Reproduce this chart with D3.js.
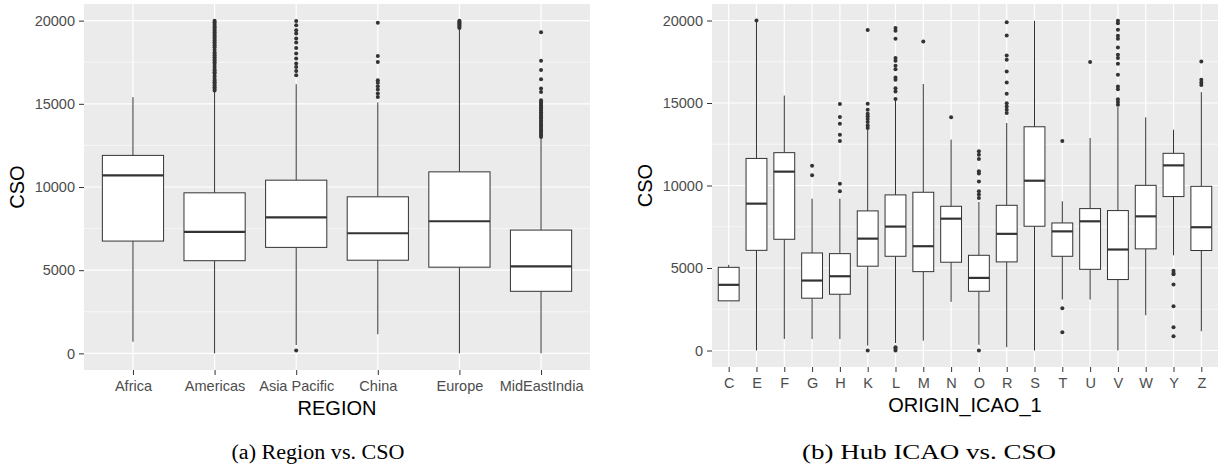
<!DOCTYPE html>
<html>
<head>
<meta charset="utf-8">
<script src="https://cdn.jsdelivr.net/npm/d3@7"></script>
<style>
  body { margin: 0; background: #fff; }
  svg { display: block; }
</style>
</head>
<body>
<svg id="chart" width="1219" height="469"></svg>
<script>
// ---- data: left panel (REGION) ----
const regionNames = ['Africa', 'Americas', 'Asia Pacific', 'China', 'Europe', 'MidEastIndia']
const regionLower = [700, 0, 500, 1150, 0, 0]
const regionQ1 = [6750, 5570, 6370, 5600, 5180, 3730]
const regionMedian = [10700, 7300, 8170, 7220, 7940, 5230]
const regionQ3 = [11900, 9650, 10410, 9410, 10910, 7410]
const regionUpper = [15400, 15750, 16180, 15080, 19450, 12900]
const regionOutliers = [
  [],
  [15800, 15900, 16000, 16100, 16200, 16300, 16400, 16500, 16650, 16800, 16900, 17000, 17100, 17250,
   17400, 17500, 17600, 17700, 17800, 17900, 18000, 18100, 18250, 18400, 18500, 18600, 18700, 18800,
   18900, 19000, 19100, 19200, 19300, 19400, 19500, 19600, 19700, 19800, 19900, 20000],
  [170, 16720, 16980, 17220, 17420, 17720, 18020, 18360, 18680, 18920, 19220, 19420, 19720, 19980],
  [15410, 15620, 15860, 16060, 16260, 16420, 17520, 17880, 19880],
  [19550, 19620, 19700, 19760, 19820, 19880, 19940, 20000],
  [13000, 13100, 13200, 13300, 13400, 13500, 13600, 13700, 13800, 13900, 14000, 14100, 14200, 14300,
   14400, 14500, 14600, 14700, 14800, 14900, 15000, 15100, 15220, 15710, 15920, 16480, 17030, 17590, 19300]
]

// ---- data: right panel (ORIGIN_ICAO_1) ----
const hubNames = ['C', 'E', 'F', 'G', 'H', 'K', 'L', 'M', 'N', 'O', 'R', 'S', 'T', 'U', 'V', 'W', 'Y', 'Z']
const hubLower = [3010, 0, 700, 700, 700, 300, 450, 600, 2950, 350, 200, 0, 3090, 3090, 0, 2140, 5770, 1170]
const hubQ1 = [3010, 6070, 6740, 3170, 3410, 5110, 5710, 4780, 5350, 3590, 5370, 7530, 5710, 4920, 4300, 6160, 9330, 6060]
const hubMedian = [3980, 8900, 10840, 4240, 4500, 6780, 7510, 6320, 7990, 4400, 7070, 10290, 7220, 7830, 6120, 8130, 11220, 7470]
const hubQ3 = [5040, 11640, 11990, 5910, 5870, 8460, 9430, 9590, 8740, 5770, 8800, 13560, 7730, 8600, 8480, 10010, 11950, 9950]
const hubUpper = [5190, 19950, 15450, 9200, 9200, 13400, 15150, 16150, 12780, 9000, 13790, 19980, 9040, 12880, 14750, 14130, 13380, 15660]
const hubOutliers = [
  [],
  [20000],
  [],
  [10620, 11200],
  [9650, 10110, 12700, 13080, 13750, 14150, 14940],
  [0, 13480, 13640, 13850, 14030, 14190, 14350, 14590, 14960, 19420],
  [0, 100, 200, 15250, 15700, 15900, 16410, 16550, 17050, 17260, 17560, 17720, 18890, 19380, 19540],
  [18730],
  [14130],
  [0, 9250, 9450, 9650, 10250, 10720, 10860, 11610, 11870, 12070],
  [14390, 14590, 14790, 14990, 15560, 16250, 16910, 17620, 17880, 19090, 19900],
  [],
  [1110, 2560, 12700],
  [17480],
  [14900, 15060, 15230, 15840, 16000, 16710, 17380, 17720, 17920, 18370, 18890, 19070, 19440, 19840, 19980],
  [],
  [870, 1410, 2680, 4000, 4620, 4700, 4840],
  [16090, 16250, 16410, 17520]
]

const yMajor = [0, 5000, 10000, 15000, 20000]
const yMinor = [2500, 7500, 12500, 17500]

const svg = d3.select('#chart')
const sans = 'Liberation Sans, Arial, sans-serif'

function drawPanel(cfg) {
  const g = svg.append('g')

  const x = d3.scalePoint().domain(cfg.names).range([cfg.x0, cfg.x1]).padding(0.6)
  const y = d3.scaleLinear().domain([-1000, 21000]).range([cfg.y1, cfg.y0])
  const bw = x.step() * 0.75

  // panel background
  g.append('rect')
    .attr('x', cfg.x0).attr('y', cfg.y0)
    .attr('width', cfg.x1 - cfg.x0).attr('height', cfg.y1 - cfg.y0)
    .attr('fill', '#EBEBEB')

  // grid
  g.selectAll('.minor').data(yMinor).enter().append('line')
    .attr('x1', cfg.x0).attr('x2', cfg.x1)
    .attr('y1', d => y(d)).attr('y2', d => y(d))
    .attr('stroke', '#fff').attr('stroke-width', 0.6)
  g.selectAll('.major').data(yMajor).enter().append('line')
    .attr('x1', cfg.x0).attr('x2', cfg.x1)
    .attr('y1', d => y(d)).attr('y2', d => y(d))
    .attr('stroke', '#fff').attr('stroke-width', 1.2)
  g.selectAll('.vgrid').data(cfg.names).enter().append('line')
    .attr('x1', d => x(d)).attr('x2', d => x(d))
    .attr('y1', cfg.y0).attr('y2', cfg.y1)
    .attr('stroke', '#fff').attr('stroke-width', 1.2)

  // boxes
  const rows = cfg.names.map((n, i) => ({
    name: n, lo: cfg.lower[i], q1: cfg.q1[i], med: cfg.median[i],
    q3: cfg.q3[i], hi: cfg.upper[i], out: cfg.outliers[i]
  }))

  const box = g.selectAll('.box').data(rows).enter().append('g')

  box.append('line')
    .attr('x1', d => x(d.name)).attr('x2', d => x(d.name))
    .attr('y1', d => y(d.q3)).attr('y2', d => y(d.hi))
    .attr('stroke', '#333').attr('stroke-width', 1)
  box.append('line')
    .attr('x1', d => x(d.name)).attr('x2', d => x(d.name))
    .attr('y1', d => y(d.q1)).attr('y2', d => y(d.lo))
    .attr('stroke', '#333').attr('stroke-width', 1)
  box.append('rect')
    .attr('x', d => x(d.name) - bw / 2).attr('width', bw)
    .attr('y', d => y(d.q3)).attr('height', d => y(d.q1) - y(d.q3))
    .attr('fill', '#fff').attr('stroke', '#333').attr('stroke-width', 1)
  box.append('line')
    .attr('x1', d => x(d.name) - bw / 2).attr('x2', d => x(d.name) + bw / 2)
    .attr('y1', d => y(d.med)).attr('y2', d => y(d.med))
    .attr('stroke', '#333').attr('stroke-width', 2.2)

  box.selectAll('circle').data(d => d.out.map(v => ({ name: d.name, v: v }))).enter()
    .append('circle')
    .attr('cx', d => x(d.name)).attr('cy', d => y(d.v))
    .attr('r', 2).attr('fill', '#333')

  // axes
  const yAxis = g.append('g')
    .attr('transform', `translate(${cfg.x0},0)`)
    .call(d3.axisLeft(y).tickValues(yMajor).tickSize(5).tickPadding(4).tickFormat(d3.format('d')))
  const xAxis = g.append('g')
    .attr('transform', `translate(0,${cfg.y1})`)
    .call(d3.axisBottom(x).tickSize(5).tickPadding(5.5))

  ;[yAxis, xAxis].forEach(a => {
    a.select('.domain').remove()
    a.selectAll('.tick line').attr('stroke', '#333').attr('stroke-width', 1)
    a.selectAll('.tick text').attr('fill', '#4D4D4D')
      .style('font-family', sans).style('font-size', '14.5px')
  })

  // titles
  g.append('text')
    .attr('x', (cfg.x0 + cfg.x1) / 2).attr('y', cfg.y1 + 45)
    .attr('text-anchor', 'middle')
    .style('font-family', sans).style('font-size', '20px')
    .text(cfg.xTitle)
  g.append('text')
    .attr('transform', `translate(${cfg.yTitleX},${(cfg.y0 + cfg.y1) / 2}) rotate(-90)`)
    .attr('text-anchor', 'middle')
    .style('font-family', sans).style('font-size', '20px')
    .text('CSO')

  // caption
  g.append('text')
    .attr('x', cfg.capX).attr('y', 459)
    .attr('text-anchor', 'middle')
    .attr('textLength', cfg.capLen).attr('lengthAdjust', 'spacingAndGlyphs')
    .style('font-family', 'Liberation Serif, DejaVu Serif, serif').style('font-size', '20px')
    .text(cfg.caption)
}

drawPanel({
  names: regionNames, lower: regionLower, q1: regionQ1, median: regionMedian,
  q3: regionQ3, upper: regionUpper, outliers: regionOutliers,
  x0: 84, x1: 590, y0: 4, y1: 370, yTitleX: 24,
  xTitle: 'REGION', caption: '(a) Region vs. CSO', capX: 318, capLen: 173
})

drawPanel({
  names: hubNames, lower: hubLower, q1: hubQ1, median: hubMedian,
  q3: hubQ3, upper: hubUpper, outliers: hubOutliers,
  x0: 712, x1: 1218, y0: 4, y1: 367, yTitleX: 652,
  xTitle: 'ORIGIN_ICAO_1', caption: '(b) Hub ICAO vs. CSO', capX: 929, capLen: 254
})
</script>
</body>
</html>
